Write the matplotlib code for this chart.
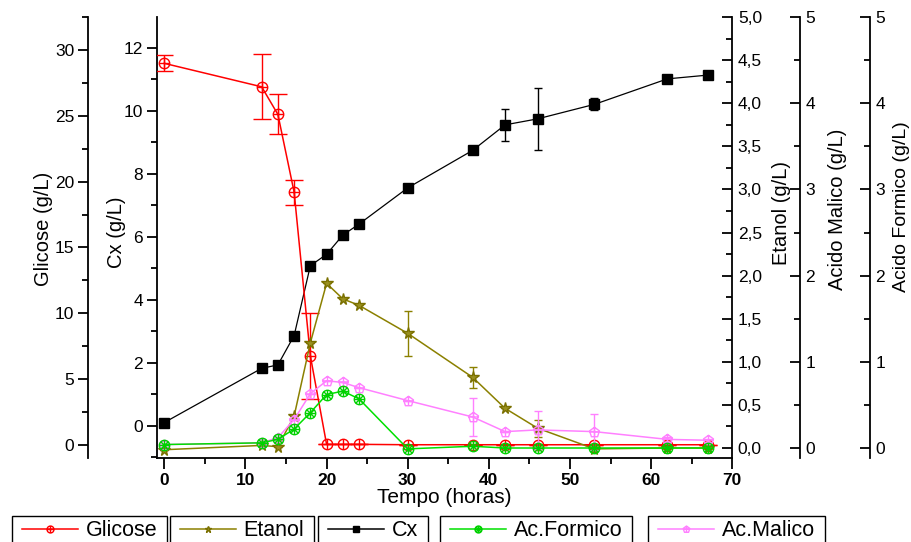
import matplotlib
matplotlib.use('Agg')
import matplotlib.pyplot as plt
from matplotlib.path import Path
from matplotlib.patches import Rectangle
from matplotlib.ticker import MultipleLocator, FuncFormatter
import numpy as np

plt.rcParams['font.family'] = ['Liberation Sans', 'DejaVu Sans']

tempo = [0, 12, 14, 16, 18, 20, 22, 24, 30, 38, 42, 46, 53, 62, 67]

glicose = [28.98, 27.2, 25.1, 19.2, 6.76, 0.05, 0.05, 0.05, 0.02, 0.02, 0.02, 0.02, 0.02, 0.02, 0.02]
glicose_err = [0.6, 2.47, 1.52, 0.94, 3.25, 0, 0, 0, 0, 0, 0, 0, 0, 0, 0]

cx = [0.11, 1.83, 1.94, 2.87, 5.09, 5.45, 6.06, 6.41, 7.56, 8.75, 9.56, 9.75, 10.21, 11.02, 11.14]
cx_err = [0, 0, 0, 0, 0, 0, 0, 0, 0, 0, 0.51, 0.98, 0.19, 0, 0]

etanol = [-0.02, 0.03, 0.015, 0.37, 1.22, 1.91, 1.73, 1.655, 1.33, 0.82, 0.46, 0.23, -0.01, 0.0, 0.0]
etanol_err = [0, 0, 0, 0, 0, 0, 0, 0, 0.26, 0.12, 0, 0.1, 0, 0, 0]

formico = [0.04, 0.06, 0.10, 0.22, 0.41, 0.62, 0.66, 0.57, -0.01, 0.02, 0.0, 0.0, 0.0, 0.0, 0.0]

malico = [0.04, 0.06, 0.12, 0.33, 0.63, 0.78, 0.76, 0.70, 0.55, 0.36, 0.19, 0.21, 0.19, 0.10, 0.09]
malico_err = [0, 0, 0, 0, 0, 0, 0, 0, 0, 0.22, 0, 0.22, 0.21, 0.03, 0.02]


def compound(*parts):
    return Path.make_compound_path(*parts)


def seg(p0, p1):
    return Path([p0, p1], [Path.MOVETO, Path.LINETO])


# Origin-like open symbols
circle_plus = compound(Path.unit_circle(), seg((-1, 0), (1, 0)), seg((0, -1), (0, 1)))
d = 0.707
circle_x = compound(Path.unit_circle(), seg((-d, -d), (d, d)), seg((-d, d), (d, -d)),
                    seg((-1, 0), (1, 0)), seg((0, -1), (0, 1)))
ang = np.pi / 2 + np.arange(5) * 2 * np.pi / 5
pent = Path(list(zip(np.cos(ang), np.sin(ang))) + [(0, 1)],
            [Path.MOVETO] + [Path.LINETO] * 4 + [Path.CLOSEPOLY])
pent_plus = compound(pent, seg((-0.95, 0.1), (0.95, 0.1)), seg((0, -0.8), (0, 1)))

W, H = 912, 542
fig = plt.figure(figsize=(W / 100, H / 100), dpi=100)
x0, x1, y_top, y_bot = 157, 732.3, 17, 458
ax = fig.add_axes([x0 / W, (H - y_bot) / H, (x1 - x0) / W, (y_bot - y_top) / H])
aw = x1 - x0

ax_g = ax.twinx()
ax_e = ax.twinx()
ax_m = ax.twinx()
ax_f = ax.twinx()

spine_w = 1.3
for a in (ax, ax_g, ax_e, ax_m, ax_f):
    for s in a.spines.values():
        s.set_visible(False)
        s.set_linewidth(spine_w)

ax.spines['left'].set_visible(True)
ax.spines['bottom'].set_visible(True)

ax_g.yaxis.set_ticks_position('left')
ax_g.yaxis.set_label_position('left')
ax_g.spines['left'].set_visible(True)
ax_g.spines['left'].set_position(('axes', (88 - x0) / aw))

ax_e.spines['right'].set_visible(True)
ax_m.spines['right'].set_visible(True)
ax_m.spines['right'].set_position(('axes', (800 - x0) / aw))
ax_f.spines['right'].set_visible(True)
ax_f.spines['right'].set_position(('axes', (870 - x0) / aw))

ax.set_xlim(-0.9, 70)
ax.set_ylim(-1.016, 12.984)
ax_g.set_ylim(-0.987, 32.5)
for a in (ax_e, ax_m, ax_f):
    a.set_ylim(-0.116, 5.0)

# series
ms = 7.5
ax.errorbar(tempo, cx, yerr=cx_err, color='black', lw=0.9, marker='s', ms=6.5,
            capsize=3, elinewidth=1, capthick=1)
ax_e.errorbar(tempo, etanol, yerr=etanol_err, color='#8B8000', lw=1.1, marker='*', ms=8.5,
              mfc='#9A9020', mec='#7A7000', capsize=3, elinewidth=1, capthick=1)
ax_m.errorbar(tempo, malico, yerr=malico_err, color='#FF80FF', lw=1.1, marker=pent_plus, ms=ms,
              mfc='none', mec='#FF80FF', capsize=3, elinewidth=1, capthick=1)
ax_f.plot(tempo, formico, color='#00E000', lw=1.1, marker=circle_x, ms=ms,
          mfc='none', mec='#00D000')
ax_g.errorbar(tempo, glicose, yerr=glicose_err, color='red', lw=1.1, marker=circle_plus, ms=ms,
              mfc='none', mec='red', capsize=6.5, elinewidth=1, capthick=1)

# ticks
tick_fs = 12.5
ax.xaxis.set_major_locator(MultipleLocator(10))
ax.xaxis.set_minor_locator(MultipleLocator(5))
ax.tick_params(axis='x', which='major', direction='out', length=8, width=spine_w,
               labelsize=tick_fs, pad=3)
ax.tick_params(axis='x', which='minor', direction='out', length=4, width=spine_w)
for lab in ax.get_xticklabels():
    lab.set_fontweight('bold')

ax.yaxis.set_major_locator(MultipleLocator(2))
ax.yaxis.set_minor_locator(MultipleLocator(1))
ax_g.yaxis.set_major_locator(MultipleLocator(5))
ax_g.yaxis.set_minor_locator(MultipleLocator(2.5))
for a in (ax, ax_g):
    a.tick_params(axis='y', which='major', direction='out', length=7, width=spine_w,
                  labelsize=tick_fs, pad=3)
    a.tick_params(axis='y', which='minor', direction='out', length=4, width=spine_w)

ax_e.yaxis.set_major_locator(MultipleLocator(0.5))
ax_e.yaxis.set_minor_locator(MultipleLocator(0.25))
ax_e.yaxis.set_major_formatter(FuncFormatter(lambda v, p: f'{v:.1f}'.replace('.', ',')))
for a in (ax_m, ax_f):
    a.yaxis.set_major_locator(MultipleLocator(1))
    a.yaxis.set_minor_locator(MultipleLocator(0.5))
for a in (ax_e, ax_m, ax_f):
    a.tick_params(axis='y', which='major', direction='in', length=7, width=spine_w,
                  labelsize=tick_fs, pad=4)
    a.tick_params(axis='y', which='minor', direction='in', length=4, width=spine_w)

# axis labels
lab_fs = 14.5
ax.set_xlabel('Tempo (horas)', fontsize=15)
ax.xaxis.set_label_coords(0.5, -0.068)
ax_g.set_ylabel('Glicose (g/L)', fontsize=lab_fs)
ax_g.yaxis.set_label_coords((53 - x0) / aw, 0.52)
ax.set_ylabel('Cx (g/L)', fontsize=lab_fs)
ax.yaxis.set_label_coords((126 - x0) / aw, 0.511)
ax_e.set_ylabel('Etanol (g/L)', fontsize=lab_fs)
ax_e.yaxis.set_label_coords((772 - x0) / aw, 0.556)
ax_m.set_ylabel('Acido Malico (g/L)', fontsize=lab_fs)
ax_m.yaxis.set_label_coords((828 - x0) / aw, 0.563)
ax_f.set_ylabel('Acido Formico (g/L)', fontsize=14)
ax_f.yaxis.set_label_coords((893 - x0) / aw, 0.571)

# legend: one box per series along the bottom, boxes run past the lower edge
entries = [
    ('Glicose', dict(color='red', marker=circle_plus, mfc='none', mec='red'), 12),
    ('Etanol', dict(color='#8B8000', marker='*', mfc='#9A9020', mec='#7A7000'), 170),
    ('Cx', dict(color='black', marker='s', mfc='black', mec='black'), 318),
    ('Ac.Formico', dict(color='#00E000', marker=circle_x, mfc='none', mec='#00D000'), 440),
    ('Ac.Malico', dict(color='#FF80FF', marker=pent_plus, mfc='none', mec='#FF80FF'), 648),
]
box_top = 515.5
pad_x = 10
legends = []
for name, style, left in entries:
    h = plt.Line2D([], [], lw=1.1, ms=5, **style)
    leg = fig.legend(handles=[h], labels=[name], loc='upper left',
                     bbox_to_anchor=((left + pad_x) / W, 1 - (box_top + 5) / H),
                     borderaxespad=0, borderpad=0, fontsize=15.5,
                     handlelength=2.6, handletextpad=0.35, frameon=False)
    legends.append((leg, left))

fig.canvas.draw()
renderer = fig.canvas.get_renderer()
for leg, left in legends:
    bb = leg.get_window_extent(renderer)
    right = bb.x1 + pad_x
    fig.patches.append(Rectangle((left / W, -0.05), (right - left) / W,
                                 1 - box_top / H + 0.05, transform=fig.transFigure,
                                 fill=False, edgecolor='black', lw=1.0))

fig.savefig('out.png', dpi=100)
